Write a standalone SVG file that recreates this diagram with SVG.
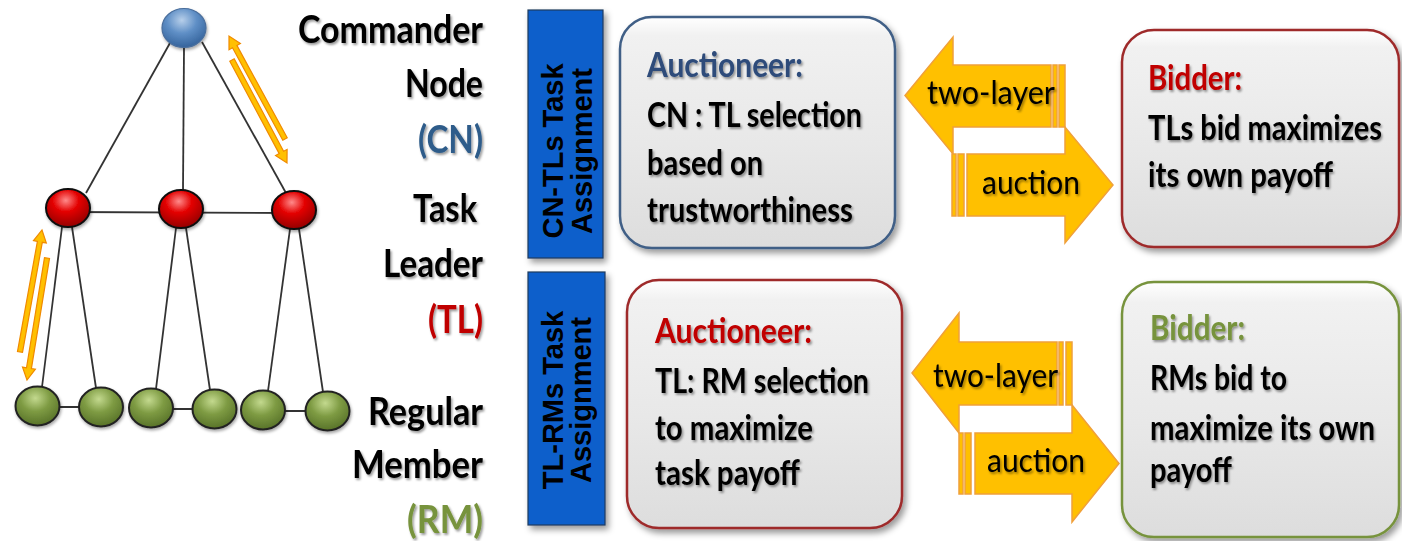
<svg xmlns="http://www.w3.org/2000/svg" width="1402" height="541" viewBox="0 0 1402 541">
  <defs>
    <style>
      .lbl { font-family: Lato, "Liberation Sans", sans-serif; font-weight: 700; font-size: 39px; fill: #000; }
      .box-txt { font-family: Lato, "Liberation Sans", sans-serif; font-weight: 700; font-size: 35px; fill: #000; }
      .arr-txt { font-family: Lato, "Liberation Sans", sans-serif; font-weight: 400; font-size: 33px; fill: #000; }
      .bar-txt { font-family: "Liberation Sans", Arial, sans-serif; font-weight: 700; font-size: 29px; fill: #000; }
      .edge { stroke: #333; stroke-width: 1.8; fill: none; }
      .mini-arrow { fill: #FFC000; stroke: #F08A00; stroke-width: 1.2; stroke-linejoin: miter; }
      .big-arrow { fill: #FFC000; stroke: #F0A03A; stroke-width: 1.5; }
      .box { fill: url(#boxFill); stroke-width: 2.5; filter: url(#boxShadow); }
      .bar { fill: #0A5FCB; stroke: #1E3A5F; stroke-width: 1.2; filter: url(#boxShadow); }
      .shadowed { filter: url(#txtShadow); }
      .blue { fill: #2D4B7A; }
      .cn { fill: #2E5C8A; }
      .red { fill: #C00000; }
      .green { fill: #77933C; }
    </style>
    <linearGradient id="boxFill" x1="0" y1="0" x2="0" y2="1">
      <stop offset="0" stop-color="#FFFFFF"/>
      <stop offset="0.08" stop-color="#F1F1F1"/>
      <stop offset="0.55" stop-color="#E8E8E8"/>
      <stop offset="1" stop-color="#DDDDDD"/>
    </linearGradient>
    <radialGradient id="blueBall" cx="0.45" cy="0.3" r="0.75">
      <stop offset="0" stop-color="#B7CFEA"/>
      <stop offset="0.45" stop-color="#5F8FC6"/>
      <stop offset="1" stop-color="#2F5D96"/>
    </radialGradient>
    <radialGradient id="redBall" cx="0.45" cy="0.3" r="0.75">
      <stop offset="0" stop-color="#FF8A8A"/>
      <stop offset="0.4" stop-color="#E30000"/>
      <stop offset="1" stop-color="#8A0000"/>
    </radialGradient>
    <radialGradient id="greenBall" cx="0.45" cy="0.3" r="0.75">
      <stop offset="0" stop-color="#C3D98E"/>
      <stop offset="0.45" stop-color="#7E9B43"/>
      <stop offset="1" stop-color="#536D25"/>
    </radialGradient>
    <filter id="boxShadow" x="-10%" y="-10%" width="125%" height="125%">
      <feDropShadow dx="3" dy="4" stdDeviation="3" flood-color="#000" flood-opacity="0.4"/>
    </filter>
    <filter id="txtShadow" x="-5%" y="-20%" width="115%" height="150%">
      <feDropShadow dx="1.5" dy="2" stdDeviation="1.2" flood-color="#000" flood-opacity="0.4"/>
    </filter>
    <filter id="ballShadow" x="-30%" y="-30%" width="160%" height="160%">
      <feDropShadow dx="1" dy="2" stdDeviation="1.5" flood-color="#000" flood-opacity="0.35"/>
    </filter>
  </defs>

  <rect width="1402" height="541" fill="#FFFFFF"/>

  <!-- hierarchy edges and hand-off arrows -->
  <g id="connectors">
    <line class="edge" x1="170" y1="43" x2="86" y2="193"/>
    <line class="edge" x1="184" y1="48" x2="183" y2="190"/>
    <line class="edge" x1="202" y1="42" x2="286" y2="193"/>
    <line class="edge" x1="68" y1="212" x2="294" y2="213"/>
    <line class="edge" x1="62" y1="227" x2="42" y2="387"/>
    <line class="edge" x1="72" y1="227" x2="96" y2="388"/>
    <line class="edge" x1="176" y1="228" x2="156" y2="389"/>
    <line class="edge" x1="186" y1="228" x2="210" y2="390"/>
    <line class="edge" x1="290" y1="229" x2="268" y2="391"/>
    <line class="edge" x1="299" y1="229" x2="323" y2="392"/>
    <line class="edge" x1="37" y1="407" x2="101" y2="407"/>
    <line class="edge" x1="151" y1="409" x2="214" y2="409"/>
    <line class="edge" x1="263" y1="411" x2="327" y2="411"/>
    <!-- CN <-> TL exchange -->
    <polygon class="mini-arrow" points="287.2,137.8 236.9,45.4 240.4,43.4 229,36 229.0,49.7 232.5,47.7 282.8,140.2"/>
    <polygon class="mini-arrow" points="229.8,61.2 279.2,153.6 275.6,155.5 287,163 287.1,149.4 283.6,151.2 234.2,58.8"/>
    <!-- TL <-> RM exchange -->
    <polygon class="mini-arrow" points="22.5,352.4 42.3,242.3 46.3,243.0 42,230 33.5,240.7 37.4,241.4 17.5,351.6"/>
    <polygon class="mini-arrow" points="44.5,257.6 26.5,367.8 22.5,367.1 27,380 35.4,369.2 31.4,368.6 49.5,258.4"/>
  </g>

  <!-- tree nodes -->
  <g id="node-cn" filter="url(#ballShadow)">
    <ellipse cx="184" cy="28" rx="22" ry="19.5" fill="url(#blueBall)" stroke="#4A6E9C" stroke-width="1.2"/>
  </g>
  <g id="node-tl" filter="url(#ballShadow)">
    <ellipse cx="68" cy="208" rx="22" ry="19" fill="url(#redBall)" stroke="#111" stroke-width="2"/>
    <ellipse cx="181" cy="209" rx="22" ry="19" fill="url(#redBall)" stroke="#111" stroke-width="2"/>
    <ellipse cx="294" cy="210" rx="22" ry="19" fill="url(#redBall)" stroke="#111" stroke-width="2"/>
  </g>
  <g id="node-rm" filter="url(#ballShadow)">
    <ellipse cx="37.5" cy="406" rx="22" ry="19.5" fill="url(#greenBall)" stroke="#222" stroke-width="2"/>
    <ellipse cx="101" cy="407" rx="22" ry="19.5" fill="url(#greenBall)" stroke="#222" stroke-width="2"/>
    <ellipse cx="151" cy="408" rx="22" ry="19.5" fill="url(#greenBall)" stroke="#222" stroke-width="2"/>
    <ellipse cx="214.5" cy="409" rx="22" ry="19.5" fill="url(#greenBall)" stroke="#222" stroke-width="2"/>
    <ellipse cx="263" cy="410" rx="22" ry="19.5" fill="url(#greenBall)" stroke="#222" stroke-width="2"/>
    <ellipse cx="327.5" cy="411" rx="22" ry="19.5" fill="url(#greenBall)" stroke="#222" stroke-width="2"/>
  </g>

  <!-- role labels -->
  <g id="labels" class="shadowed" text-anchor="end">
    <text class="lbl" x="483" y="43" textLength="185" lengthAdjust="spacingAndGlyphs">Commander</text>
    <text class="lbl" x="483" y="97" textLength="78" lengthAdjust="spacingAndGlyphs">Node</text>
    <text class="lbl cn" x="483" y="153" textLength="65" lengthAdjust="spacingAndGlyphs">(CN)</text>
    <text class="lbl" x="477" y="222" textLength="64" lengthAdjust="spacingAndGlyphs">Task</text>
    <text class="lbl" x="483" y="277" textLength="100" lengthAdjust="spacingAndGlyphs">Leader</text>
    <text class="lbl red" x="483" y="333" textLength="55" lengthAdjust="spacingAndGlyphs">(TL)</text>
    <text class="lbl" x="483" y="425" textLength="115" lengthAdjust="spacingAndGlyphs">Regular</text>
    <text class="lbl" x="483" y="478" textLength="131" lengthAdjust="spacingAndGlyphs">Member</text>
    <text class="lbl green" x="483" y="533" textLength="76" lengthAdjust="spacingAndGlyphs">(RM)</text>
  </g>

  <!-- phase bars -->
  <g id="bar-cn-tl">
    <rect class="bar" x="528" y="10" width="75" height="248"/>
    <text class="bar-txt" text-anchor="middle" transform="translate(563,151) rotate(-90)">CN-TLs Task</text>
    <text class="bar-txt" text-anchor="middle" transform="translate(592,151) rotate(-90)">Assignment</text>
  </g>
  <g id="bar-tl-rm">
    <rect class="bar" x="528" y="272" width="77" height="253"/>
    <text class="bar-txt" text-anchor="middle" transform="translate(563,400) rotate(-90)">TL-RMs Task</text>
    <text class="bar-txt" text-anchor="middle" transform="translate(591,400) rotate(-90)">Assignment</text>
  </g>

  <!-- upper auction -->
  <g id="auctioneer-cn">
    <rect class="box" x="620" y="17" width="275" height="231" rx="32" stroke="#3F5E86"/>
    <g class="shadowed">
      <text class="box-txt blue" x="647" y="77" textLength="156" lengthAdjust="spacingAndGlyphs">Auctioneer:</text>
      <text class="box-txt" x="647" y="127" textLength="215" lengthAdjust="spacingAndGlyphs">CN : TL selection</text>
      <text class="box-txt" x="647" y="175" textLength="116" lengthAdjust="spacingAndGlyphs">based on</text>
      <text class="box-txt" x="647" y="222" textLength="206" lengthAdjust="spacingAndGlyphs">trustworthiness</text>
    </g>
  </g>
  <g id="arrows-upper">
    <path class="big-arrow" d="M905,95.5 L953,37 L953,65 L1051,65 L1051,127 L953,127 L953,154 Z"/>
    <rect class="big-arrow" x="1053" y="65" width="4" height="62"/>
    <rect class="big-arrow" x="1059" y="65" width="6" height="62"/>
    <rect class="big-arrow" x="952" y="154" width="4" height="62"/>
    <rect class="big-arrow" x="958" y="154" width="6" height="62"/>
    <path class="big-arrow" d="M967,154 L1065,154 L1065,127 L1113,185 L1065,243 L1065,216 L967,216 Z"/>
    <g class="shadowed">
      <text class="arr-txt" x="927" y="104" textLength="128" lengthAdjust="spacingAndGlyphs">two-layer</text>
      <text class="arr-txt" x="982" y="194" textLength="98" lengthAdjust="spacingAndGlyphs">auction</text>
    </g>
  </g>
  <g id="bidder-tl">
    <rect class="box" x="1122" y="30" width="277" height="217" rx="32" stroke="#9E2A2B"/>
    <!-- narrow lines: horizontally condensed so the run stays inside the box -->
    <g class="shadowed" transform="translate(1148,0) scale(0.82,1)">
      <text class="box-txt red" x="0" y="90" textLength="114.6" lengthAdjust="spacingAndGlyphs">Bidder:</text>
      <text class="box-txt" x="0" y="140" textLength="285.4" lengthAdjust="spacingAndGlyphs">TLs bid maximizes</text>
      <text class="box-txt" x="0" y="187" textLength="225.6" lengthAdjust="spacingAndGlyphs">its own  payoff</text>
    </g>
  </g>

  <!-- lower auction -->
  <g id="auctioneer-tl">
    <rect class="box" x="627" y="280" width="275" height="248" rx="32" stroke="#9E2A2B"/>
    <g class="shadowed">
      <text class="box-txt red" x="655" y="343" textLength="157" lengthAdjust="spacingAndGlyphs">Auctioneer:</text>
      <text class="box-txt" x="655" y="393" textLength="214" lengthAdjust="spacingAndGlyphs">TL: RM selection</text>
      <text class="box-txt" x="655" y="440" textLength="158" lengthAdjust="spacingAndGlyphs">to maximize</text>
      <text class="box-txt" x="655" y="485" textLength="145" lengthAdjust="spacingAndGlyphs">task payoff</text>
    </g>
  </g>
  <g id="arrows-lower">
    <path class="big-arrow" d="M912,373 L959,313 L959,342 L1057,342 L1057,405 L959,405 L959,433 Z"/>
    <rect class="big-arrow" x="1059" y="342" width="4" height="63"/>
    <rect class="big-arrow" x="1066" y="342" width="6" height="63"/>
    <rect class="big-arrow" x="959" y="433" width="4" height="61"/>
    <rect class="big-arrow" x="965" y="433" width="6" height="61"/>
    <path class="big-arrow" d="M975,433 L1072,433 L1072,405 L1119,463.5 L1072,522 L1072,494 L975,494 Z"/>
    <g class="shadowed">
      <text class="arr-txt" x="933" y="387" textLength="125" lengthAdjust="spacingAndGlyphs">two-layer</text>
      <text class="arr-txt" x="987" y="472" textLength="98" lengthAdjust="spacingAndGlyphs">auction</text>
    </g>
  </g>
  <g id="bidder-rm">
    <rect class="box" x="1122" y="282" width="277" height="255" rx="32" stroke="#77933C"/>
    <g class="shadowed" transform="translate(1150,0) scale(0.82,1)">
      <text class="box-txt green" x="0" y="340" textLength="115.9" lengthAdjust="spacingAndGlyphs">Bidder:</text>
      <text class="box-txt" x="0" y="390" textLength="167.1" lengthAdjust="spacingAndGlyphs">RMs bid to</text>
      <text class="box-txt" x="0" y="440" textLength="274.4" lengthAdjust="spacingAndGlyphs">maximize its own</text>
      <text class="box-txt" x="0" y="482" textLength="100" lengthAdjust="spacingAndGlyphs">payoff</text>
    </g>
  </g>
</svg>
